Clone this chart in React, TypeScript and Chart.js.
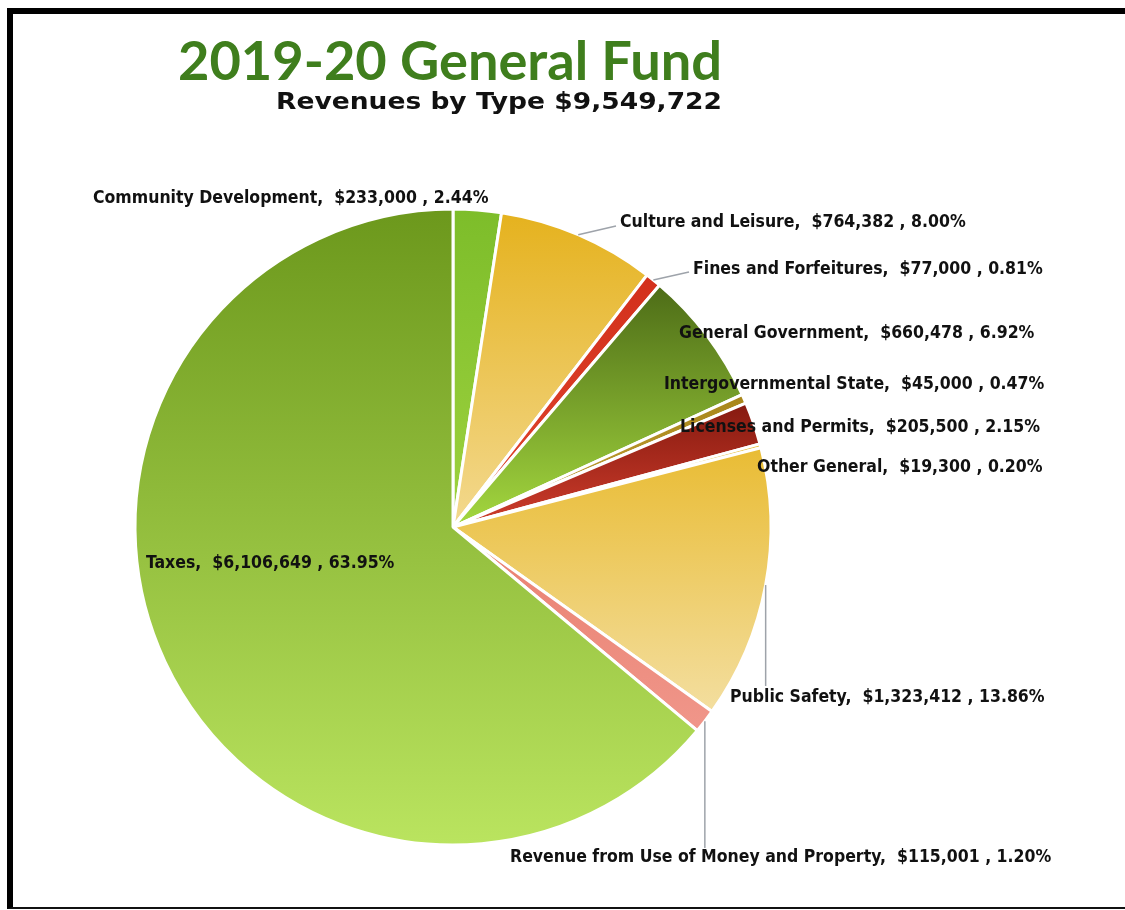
import { useEffect, useRef } from "react";
import { Chart, registerables } from "chart.js";

Chart.register(...registerables);

// Revenue categories, in drawing order (clockwise from 12 o'clock)
const CATEGORIES = [
  "Community Development",
  "Culture and Leisure",
  "Fines and Forfeitures",
  "General Government",
  "Intergovernmental State",
  "Licenses and Permits",
  "Other General",
  "Public Safety",
  "Revenue from Use of Money and Property",
  "Taxes",
];

// Budgeted amounts in dollars
const AMOUNTS = [233000, 764382, 77000, 660478, 45000, 205500, 19300, 1323412, 115001, 6106649];

const TITLE = "2019-20 General Fund";
const SUBTITLE_PREFIX = "Revenues by Type";

// Slice fills: each slice shades from its top colour to its bottom colour
const TOP_COLORS = ["#7dbd2a", "#e5b21e", "#d3301c", "#4d6c17", "#a8861a", "#861a10", "#e8c040", "#e9bc34", "#e98070", "#6c981c"];
const BOTTOM_COLORS = ["#9ed23f", "#f3d98f", "#e0462e", "#a4d83f", "#c4a23a", "#cf3d2c", "#f0d890", "#f3de9f", "#f0968a", "#bae45f"];

// Label placement (page pixels) with optional leader-line end points
type LabelPlace = { x: number; y: number; leaderTo?: [number, number]; leaderDownTo?: number };
const LABEL_PLACES: LabelPlace[] = [
  { x: 93, y: 198 },
  { x: 620, y: 222, leaderTo: [616, 226] },
  { x: 693, y: 269, leaderTo: [689, 272] },
  { x: 679, y: 333 },
  { x: 664, y: 384 },
  { x: 680, y: 427 },
  { x: 757, y: 467 },
  { x: 730, y: 697, leaderDownTo: 686 },
  { x: 510, y: 857, leaderDownTo: 848 },
  { x: 146, y: 563 },
];

const LABEL_FONT = 'bold 17.5px "DejaVu Sans Condensed", "DejaVu Sans", sans-serif';
const TITLE_FONT = 'bold 53px Lato, "DejaVu Sans", sans-serif';
const SUBTITLE_FONT = 'bold 23px "DejaVu Sans", sans-serif';

const TOTAL = AMOUNTS.reduce((a, b) => a + b, 0);
const money = (v: number) => "$" + v.toLocaleString("en-US");
const sliceLabel = (i: number) =>
  `${CATEGORIES[i]},  ${money(AMOUNTS[i])} , ${((AMOUNTS[i] / TOTAL) * 100).toFixed(2)}%`;

// Draws text starting at x, squeezed/stretched to a target width
function fitText(ctx: CanvasRenderingContext2D, text: string, x: number, y: number, width: number) {
  const w = ctx.measureText(text).width;
  ctx.save();
  ctx.translate(x, y);
  ctx.scale(width / w, 1);
  ctx.fillText(text, 0, 0);
  ctx.restore();
}

// Vertical gradient over each slice's own vertical extent
const sliceGradients = {
  id: "sliceGradients",
  beforeDatasetsDraw(chart: any) {
    const meta = chart.getDatasetMeta(0);
    const ctx: CanvasRenderingContext2D = chart.ctx;
    meta.data.forEach((arc: any, i: number) => {
      const { x, y, startAngle, endAngle, outerRadius } = arc.getProps(
        ["x", "y", "startAngle", "endAngle", "outerRadius"],
        true
      );
      const ys = [y, y + outerRadius * Math.sin(startAngle), y + outerRadius * Math.sin(endAngle)];
      const TWO_PI = Math.PI * 2;
      for (const a of [-Math.PI / 2, Math.PI / 2, (3 * Math.PI) / 2]) {
        if (a >= startAngle && a <= endAngle) ys.push(y + outerRadius * Math.sin(a));
        if (a + TWO_PI >= startAngle && a + TWO_PI <= endAngle) ys.push(y + outerRadius * Math.sin(a));
      }
      const y0 = Math.min(...ys);
      const y1 = Math.max(...ys);
      const g = ctx.createLinearGradient(0, y0, 0, Math.max(y1, y0 + 1));
      g.addColorStop(0, TOP_COLORS[i]);
      g.addColorStop(1, BOTTOM_COLORS[i]);
      arc.options = Object.assign({}, arc.options, { backgroundColor: g });
    });
  },
};

// Titles, slice labels and leader lines
const annotations = {
  id: "annotations",
  afterDatasetsDraw(chart: any) {
    const ctx: CanvasRenderingContext2D = chart.ctx;
    const meta = chart.getDatasetMeta(0);
    ctx.save();

    // leader lines from the middle of each slice's rim
    ctx.strokeStyle = "#9ea3aa";
    ctx.lineWidth = 1.5;
    meta.data.forEach((arc: any, i: number) => {
      const place = LABEL_PLACES[i];
      if (!place.leaderTo && place.leaderDownTo === undefined) return;
      const { x, y, startAngle, endAngle, outerRadius } = arc.getProps(
        ["x", "y", "startAngle", "endAngle", "outerRadius"],
        true
      );
      const mid = (startAngle + endAngle) / 2;
      const px = x + outerRadius * Math.cos(mid);
      const py = y + outerRadius * Math.sin(mid);
      ctx.beginPath();
      ctx.moveTo(px, py);
      if (place.leaderTo) ctx.lineTo(place.leaderTo[0], place.leaderTo[1]);
      else ctx.lineTo(px, place.leaderDownTo as number);
      ctx.stroke();
    });

    // slice labels
    ctx.fillStyle = "#111111";
    ctx.font = LABEL_FONT;
    ctx.textAlign = "left";
    ctx.textBaseline = "middle";
    CATEGORIES.forEach((_, i) => {
      const p = LABEL_PLACES[i];
      ctx.fillText(sliceLabel(i), p.x, p.y);
    });

    // title block
    ctx.textBaseline = "alphabetic";
    ctx.fillStyle = "#3f7e1d";
    ctx.font = TITLE_FONT;
    fitText(ctx, TITLE, 178, 80, 544);
    ctx.fillStyle = "#111111";
    ctx.font = SUBTITLE_FONT;
    fitText(ctx, `${SUBTITLE_PREFIX} ${money(TOTAL)}`, 276, 109, 446);

    ctx.restore();
  },
};

export default function App() {
  const canvasRef = useRef<HTMLCanvasElement | null>(null);

  useEffect(() => {
    if (!canvasRef.current) return;
    const chart = new Chart(canvasRef.current, {
      type: "pie",
      data: {
        labels: CATEGORIES,
        datasets: [
          {
            data: AMOUNTS,
            backgroundColor: [...TOP_COLORS],
            borderColor: "#ffffff",
            borderWidth: 3,
            hoverOffset: 0,
          },
        ],
      },
      options: {
        animation: false,
        responsive: false,
        devicePixelRatio: 1,
        radius: 318,
        layout: { padding: { left: 133, right: 352, top: 207, bottom: 63 } },
        plugins: {
          legend: { display: false },
          tooltip: { enabled: false },
        },
      } as any,
      plugins: [sliceGradients, annotations],
    });
    return () => chart.destroy();
  }, []);

  return (
    <div
      style={{
        position: "absolute",
        left: 0,
        top: 0,
        width: 1125,
        height: 910,
        overflow: "hidden",
        background: "#ffffff",
      }}
    >
      <canvas ref={canvasRef} width={1125} height={910} style={{ display: "block" }} />
      <div
        style={{
          position: "absolute",
          left: 7,
          top: 8,
          width: 1200,
          height: 901,
          boxSizing: "border-box",
          borderTop: "6px solid #000",
          borderLeft: "6px solid #000",
          borderBottom: "2px solid #111",
          pointerEvents: "none",
        }}
      />
    </div>
  );
}
